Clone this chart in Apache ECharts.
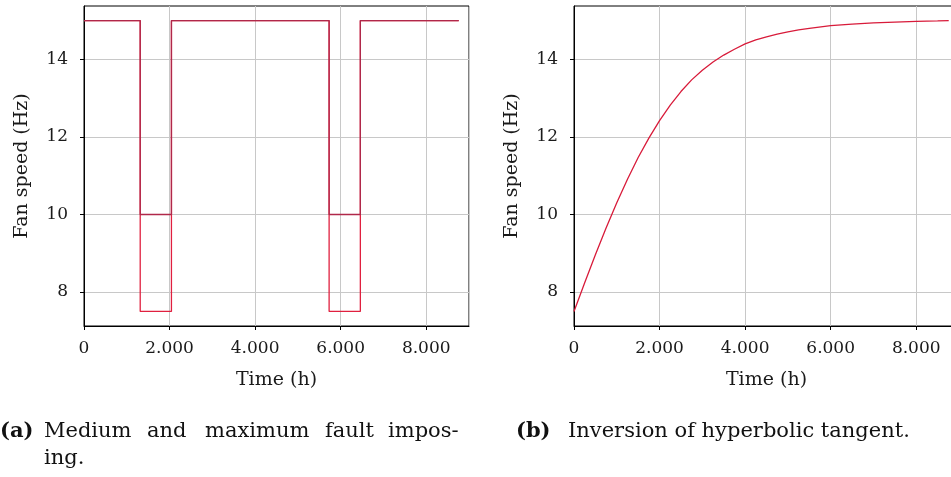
<!DOCTYPE html>
<html>
<head>
<meta charset="utf-8">
<script src="https://cdn.jsdelivr.net/npm/echarts@6/dist/echarts.min.js"></script>
<style>html,body{margin:0;padding:0;background:#fff;}#c{width:951px;height:477px;}</style>
</head>
<body>
<div id="c"></div>
<script>
// Left panel: step profiles (hours, Hz)
const stepHours = [0, 1314, 1314, 2044, 2044, 5730, 5730, 6460, 6460, 8760];
const mediumFault = [15, 15, 10, 10, 15, 15, 10, 10, 15, 15];
const maximumFault = [15, 15, 7.5, 7.5, 15, 15, 7.5, 7.5, 15, 15];
// Right panel: inversion of hyperbolic tangent
const curveHours = [0,250,500,750,1000,1250,1500,1750,2000,2250,2500,2750,3000,3250,3500,3750,4000,4250,4500,4750,5000,5250,5500,6000,6500,7000,7500,8000,8500,8760];
const curveValues = [7.50,8.24,8.96,9.65,10.30,10.91,11.47,11.97,12.42,12.82,13.17,13.47,13.72,13.93,14.11,14.26,14.40,14.50,14.58,14.65,14.71,14.76,14.80,14.87,14.91,14.94,14.96,14.98,14.99,15.00];
const yTicks = [8, 10, 12, 14];
const xTicks = [0, 2000, 4000, 6000, 8000];
const xTitle = 'Time (h)';
const yTitle = 'Fan speed (Hz)';
const captionA = ['Medium', 'and', 'maximum', 'fault', 'impos-'];
const captionA2 = 'ing.';
const captionB = 'Inversion of hyperbolic tangent.';

const FONT = 'DejaVu Serif';
const zip = (xs, ys) => xs.map((x, i) => [x, ys[i]]);
const fmt = v => v === 0 ? '0' : (v / 1000) + '.000';

function xAxis(idx) {
  return {
    type: 'value', gridIndex: idx, min: 0, max: 9000, interval: 2000,
    name: xTitle, nameLocation: 'middle', nameGap: 45,
    nameTextStyle: { fontFamily: FONT, fontSize: 19, color: '#1a1a1a' },
    axisLine: { show: true, lineStyle: { color: '#000', width: 1 } },
    axisTick: { show: true, length: 4, lineStyle: { color: '#000' } },
    axisLabel: { formatter: fmt, fontFamily: FONT, fontSize: 17, color: '#1a1a1a', margin: 14, showMaxLabel: false },
    splitLine: { show: true, lineStyle: { color: '#c8c8c8', width: 1 } }
  };
}
function yAxis(idx) {
  return {
    type: 'value', gridIndex: idx, min: 7.125, max: 15.375,
    name: yTitle, nameLocation: 'middle', nameGap: 52,
    nameTextStyle: { fontFamily: FONT, fontSize: 19, color: '#1a1a1a' },
    axisLine: { show: true, lineStyle: { color: '#000', width: 1 } },
    axisTick: { show: true, length: 4, customValues: yTicks, lineStyle: { color: '#000' } },
    axisLabel: { customValues: yTicks, fontFamily: FONT, fontSize: 17, color: '#1a1a1a', margin: 16 },
    splitLine: { show: true, lineStyle: { color: '#c8c8c8', width: 1 } }
  };
}

const chart = echarts.init(document.getElementById('c'), null, { renderer: 'canvas' });
chart.setOption({
  animation: false,
  backgroundColor: '#fff',
  grid: [
    { left: 84, top: 6, width: 385, height: 320, show: true, borderColor: '#000', borderWidth: 1, backgroundColor: 'transparent', outerBoundsMode: 'none', containLabel: false },
    { left: 574, top: 6, width: 385, height: 320, show: true, borderColor: '#000', borderWidth: 1, backgroundColor: 'transparent', outerBoundsMode: 'none', containLabel: false }
  ],
  xAxis: [xAxis(0), xAxis(1)],
  yAxis: [yAxis(0), yAxis(1)],
  series: [
    { type: 'line', xAxisIndex: 0, yAxisIndex: 0, data: zip(stepHours, maximumFault), showSymbol: false,
      lineStyle: { color: '#e0203f', width: 1.3 }, z: 3 },
    { type: 'line', xAxisIndex: 0, yAxisIndex: 0, data: zip(stepHours, mediumFault), showSymbol: false,
      lineStyle: { color: '#b0284a', width: 1.3 }, z: 4 },
    { type: 'line', xAxisIndex: 1, yAxisIndex: 1, data: zip(curveHours, curveValues), showSymbol: false,
      lineStyle: { color: '#d81b3a', width: 1.3 }, z: 3 }
  ],
  graphic: [
    { type: 'text', left: 0, top: 421, style: { text: '(a)', font: 'bold 21px "DejaVu Serif"', fill: '#111' } },
    { type: 'text', left: 44, top: 421, style: { text: captionA[0], font: '21px "DejaVu Serif"', fill: '#111' } },
    { type: 'text', left: 147, top: 421, style: { text: captionA[1], font: '21px "DejaVu Serif"', fill: '#111' } },
    { type: 'text', left: 205, top: 421, style: { text: captionA[2], font: '21px "DejaVu Serif"', fill: '#111' } },
    { type: 'text', left: 325, top: 421, style: { text: captionA[3], font: '21px "DejaVu Serif"', fill: '#111' } },
    { type: 'text', left: 388, top: 421, style: { text: captionA[4], font: '21px "DejaVu Serif"', fill: '#111' } },
    { type: 'text', left: 44, top: 448, style: { text: captionA2, font: '21px "DejaVu Serif"', fill: '#111' } },
    { type: 'text', left: 516, top: 421, style: { text: '(b)', font: 'bold 21px "DejaVu Serif"', fill: '#111' } },
    { type: 'text', left: 568, top: 421, style: { text: captionB, font: '21px "DejaVu Serif"', fill: '#111' } }
  ]
});
</script>
</body>
</html>
